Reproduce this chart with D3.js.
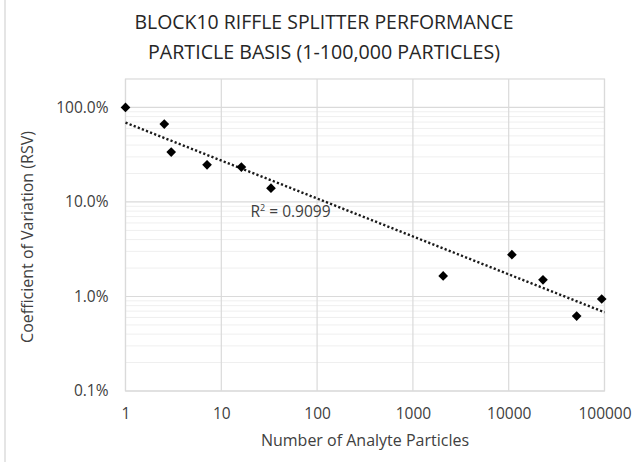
<!DOCTYPE html>
<html>
<head>
<meta charset="utf-8">
<script src="https://cdn.jsdelivr.net/npm/d3@7"></script>
<style>
  body { margin: 0; background: #fff; }
  text { font-family: "Open Sans", "Liberation Sans", sans-serif; }
</style>
</head>
<body>
<div id="chart"></div>
<script>
const titleLines = ['BLOCK10 RIFFLE SPLITTER PERFORMANCE', 'PARTICLE BASIS (1-100,000 PARTICLES)'];
const titleWidths = [379, 352];
const particles = [1, 2.54, 3.0, 7.1, 16.2, 33, 2070, 10800, 22800, 51200, 93500];
const rsv = [1.0, 0.667, 0.337, 0.247, 0.234, 0.140, 0.0165, 0.0277, 0.0150, 0.0062, 0.0094];
const xTicks = [1, 10, 100, 1000, 10000, 100000];
const yTicks = [0.001, 0.01, 0.1, 1];
const rSquaredLabel = '0.9099';
const xTitle = 'Number of Analyte Particles';
const yTitle = 'Coefficient of Variation (RSV)';

const width = 636, height = 462;
const margin = { top: 79, right: 31.5, bottom: 71, left: 125.5 };
const w = width - margin.left - margin.right;
const h = height - margin.top - margin.bottom;

const svg = d3.select('#chart').append('svg')
  .attr('width', width)
  .attr('height', height);

// left edge of the source image
svg.append('line')
  .attr('x1', 5).attr('x2', 5).attr('y1', 0).attr('y2', height)
  .attr('stroke', '#d4d4d4').attr('stroke-width', 1.2);

titleLines.forEach((t, i) => {
  svg.append('text')
    .attr('x', 324)
    .attr('y', 29 + i * 30)
    .attr('text-anchor', 'middle')
    .attr('font-size', '20.5px')
    .attr('fill', '#262626')
    .attr('textLength', titleWidths[i])
    .attr('lengthAdjust', 'spacingAndGlyphs')
    .text(t);
});

const x = d3.scaleLog().domain([1, 100000]).range([0, w]);
const y = d3.scaleLog().domain([0.001, 2.0]).range([h, 0]);

const g = svg.append('g').attr('transform', `translate(${margin.left},${margin.top})`);

// minor horizontal grid
const minor = [];
yTicks.forEach(t => { for (let k = 2; k <= 9; k++) minor.push(t * k); });
g.append('g')
  .selectAll('line')
  .data(minor.filter(v => v < 1))
  .join('line')
  .attr('x1', 0).attr('x2', w)
  .attr('y1', d => y(d)).attr('y2', d => y(d))
  .attr('stroke', '#efefef').attr('stroke-width', 1);

// major grid
g.append('g')
  .selectAll('line')
  .data(yTicks)
  .join('line')
  .attr('x1', 0).attr('x2', w)
  .attr('y1', d => y(d)).attr('y2', d => y(d))
  .attr('stroke', '#dadada').attr('stroke-width', 1.2);
g.append('g')
  .selectAll('line')
  .data(xTicks)
  .join('line')
  .attr('y1', 0).attr('y2', h)
  .attr('x1', d => x(d)).attr('x2', d => x(d))
  .attr('stroke', '#dadada').attr('stroke-width', 1.2);

g.append('rect')
  .attr('width', w).attr('height', h)
  .attr('fill', 'none')
  .attr('stroke', '#dadada').attr('stroke-width', 1.2);

const xAxis = d3.axisBottom(x).tickValues(xTicks).tickFormat(d3.format('d')).tickSize(0).tickPadding(17);
const yAxis = d3.axisLeft(y).tickValues(yTicks).tickFormat(d3.format('.1%')).tickSize(0).tickPadding(17);

g.append('g')
  .attr('transform', `translate(0,${h})`)
  .call(xAxis)
  .call(a => a.select('.domain').remove())
  .call(a => a.selectAll('text').attr('font-size', '15.5px').attr('fill', '#404040')
    .attr('font-family', '"Open Sans", sans-serif'));

g.append('g')
  .call(yAxis)
  .call(a => a.select('.domain').remove())
  .call(a => a.selectAll('text').attr('font-size', '15.5px').attr('fill', '#404040')
    .attr('font-family', '"Open Sans", sans-serif'));

// power trendline: least squares on log-log
const lx = particles.map(Math.log10), ly = rsv.map(Math.log10);
const mx = d3.mean(lx), my = d3.mean(ly);
const slope = d3.sum(lx, (v, i) => (v - mx) * (ly[i] - my)) / d3.sum(lx, v => (v - mx) ** 2);
const icpt = my - slope * mx;
const fit = v => Math.pow(10, icpt + slope * Math.log10(v));

g.append('line')
  .attr('x1', x(1)).attr('y1', y(fit(1)))
  .attr('x2', x(100000)).attr('y2', y(fit(100000)))
  .attr('stroke', '#1a1a1a')
  .attr('stroke-width', 2.4)
  .attr('stroke-dasharray', '2.2 2.2');

const symbol = d3.symbol().type(d3.symbolDiamond2).size(60);
g.append('g')
  .selectAll('path')
  .data(particles)
  .join('path')
  .attr('d', symbol)
  .attr('transform', (d, i) => `translate(${x(d)},${y(rsv[i])})`)
  .attr('fill', '#000');

const r2 = g.append('text')
  .attr('x', 125)
  .attr('y', 138)
  .attr('font-size', '15.5px')
  .attr('fill', '#404040');
r2.append('tspan').text('R');
r2.append('tspan').attr('font-size', '9px').attr('dy', -6).text('2');
r2.append('tspan').attr('dy', 6).text(' = ' + rSquaredLabel);

svg.append('text')
  .attr('x', margin.left + w / 2)
  .attr('y', 446)
  .attr('text-anchor', 'middle')
  .attr('font-size', '16px')
  .attr('fill', '#404040')
  .text(xTitle);

svg.append('text')
  .attr('transform', `translate(33,237) rotate(-90)`)
  .attr('text-anchor', 'middle')
  .attr('font-size', '16px')
  .attr('fill', '#404040')
  .text(yTitle);
</script>
</body>
</html>
